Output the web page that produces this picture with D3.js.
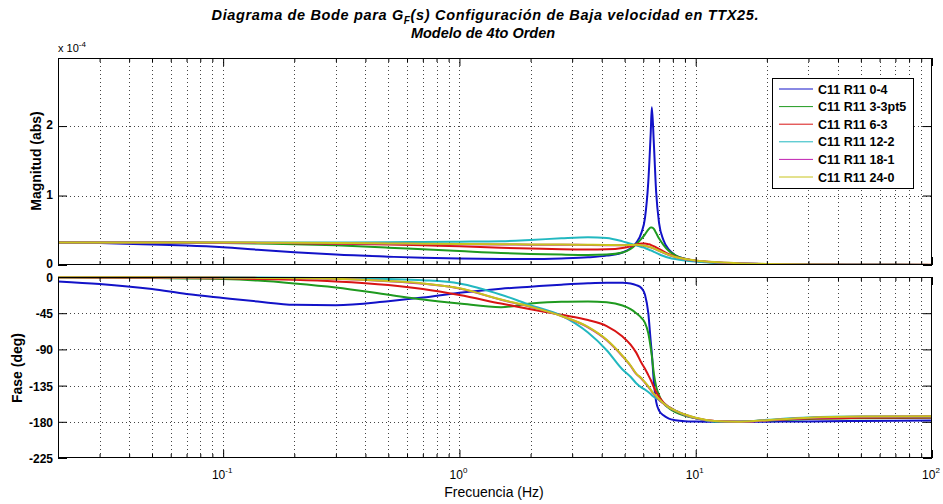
<!DOCTYPE html>
<html><head><meta charset="utf-8">
<script src="https://cdn.jsdelivr.net/npm/d3@7"></script>
<style>body{margin:0;background:#fff}svg{display:block}text{font-family:"Liberation Sans",Arial,sans-serif}</style>
</head><body><svg id="c" width="943" height="504"></svg>
<script>
// ---- DATA ----
const freq = [0.02,0.03,0.05,0.07,0.1,0.14,0.2,0.3,0.5,0.7,1,1.5,2,2.7,3.5,4.2,4.9,5.3,5.6,5.9,6.1,6.3,6.45,6.52,6.65,6.8,7.0,7.3,7.7,8.2,9,10,12,15,20,30,50,100];
const seriesNames = ["C11 R11 0-4","C11 R11 3-3pt5","C11 R11 6-3","C11 R11 12-2","C11 R11 18-1","C11 R11 24-0"];
const seriesColors = ["#1212c8","#1f9a1f","#d81414","#22b8c0","#c020b0","#c8c41c"];
// magnitude, units of 1e-4
const mag04   = [0.323,0.315,0.295,0.28,0.255,0.22,0.185,0.15,0.12,0.103,0.092,0.087,0.087,0.095,0.11,0.135,0.18,0.24,0.32,0.47,0.68,1.2,1.9,2.27,1.75,1.05,0.6,0.36,0.22,0.14,0.09,0.06,0.035,0.02,0.012,0.006,0.003,0.001];
const mag33   = [0.323,0.323,0.322,0.32,0.317,0.31,0.30,0.283,0.25,0.225,0.2,0.172,0.16,0.15,0.145,0.15,0.18,0.23,0.3,0.38,0.44,0.51,0.54,0.54,0.52,0.46,0.38,0.29,0.2,0.14,0.09,0.06,0.035,0.02,0.012,0.006,0.003,0.0015];
const mag63   = [0.323,0.323,0.323,0.322,0.32,0.318,0.314,0.307,0.295,0.283,0.27,0.248,0.237,0.226,0.222,0.225,0.245,0.27,0.295,0.31,0.31,0.30,0.29,0.282,0.27,0.255,0.23,0.195,0.155,0.12,0.085,0.06,0.035,0.02,0.012,0.006,0.003,0.0015];
const mag122  = [0.323,0.323,0.323,0.323,0.323,0.323,0.323,0.325,0.328,0.332,0.336,0.342,0.36,0.385,0.40,0.39,0.34,0.305,0.285,0.26,0.245,0.225,0.21,0.205,0.19,0.175,0.155,0.13,0.105,0.085,0.065,0.05,0.032,0.02,0.012,0.006,0.003,0.0015];
const mag181  = [0.323,0.323,0.323,0.323,0.322,0.321,0.318,0.313,0.307,0.303,0.299,0.295,0.293,0.291,0.289,0.285,0.283,0.285,0.288,0.283,0.276,0.263,0.254,0.248,0.238,0.223,0.203,0.176,0.143,0.113,0.083,0.063,0.041,0.025,0.015,0.008,0.004,0.002];
const mag240  = [0.323,0.323,0.323,0.323,0.323,0.322,0.32,0.316,0.31,0.306,0.302,0.298,0.296,0.294,0.292,0.288,0.285,0.287,0.29,0.285,0.278,0.265,0.256,0.25,0.24,0.225,0.205,0.178,0.145,0.115,0.085,0.065,0.042,0.026,0.016,0.008,0.004,0.002];
// phase, degrees
const ph04   = [-5.5,-8.7,-15,-21,-26,-30.5,-34.5,-35,-30,-25.5,-19.5,-14.5,-12,-9.5,-7.8,-7.2,-7.2,-8,-10,-14,-22,-45,-80,-95,-130,-155,-166,-172,-176,-178,-179.3,-179.7,-180,-180,-179.8,-179.5,-179,-178.3];
const ph33   = [-0.5,-0.8,-1.3,-1.8,-2.5,-4.5,-8,-13,-22,-28,-33,-37.5,-33,-30.7,-30.5,-31.5,-35.5,-40,-45,-51,-57,-70,-88,-98,-120,-136,-147,-157,-163,-168,-172.5,-175.5,-179.5,-180,-178.5,-176.5,-175.5,-175];
const ph63   = [-0.3,-0.5,-0.8,-1.2,-1.7,-2.5,-3.5,-5.5,-10,-15,-22.5,-33,-40,-47,-53.5,-61,-74,-84,-94,-107,-114,-122,-128,-131,-137,-143,-149,-156,-161.5,-166,-171.5,-175.5,-179,-180,-178,-176,-175,-174.5];
const ph122  = [0,-0.1,-0.2,-0.3,-0.4,-0.6,-0.9,-1.4,-2.5,-4,-8,-22,-35,-48,-69,-91,-115,-124,-132,-137.5,-140,-143,-145.5,-147,-149,-150.5,-153,-157,-162,-166,-171.5,-175.5,-179.5,-180,-177.5,-174.5,-173.5,-173.3];
const ph181  = [-0.2,-0.3,-0.4,-0.6,-0.8,-1.1,-1.5,-2.3,-5.2,-8.3,-14.3,-28.3,-37.2,-48.5,-62.5,-78.5,-98.5,-110.5,-120.5,-126.5,-131.5,-136.5,-140.5,-142.5,-145.5,-148.5,-152.5,-157.3,-162.2,-166.2,-171.2,-175.2,-179.1,-180,-178.3,-175.3,-173.8,-173.2];
const ph240  = [-0.2,-0.3,-0.4,-0.6,-0.8,-1.1,-1.5,-2.2,-5,-8,-14,-28,-37,-48.5,-62,-78,-98,-110,-120,-126,-131,-136,-140,-142,-145,-148,-152,-157,-162,-166,-171,-175,-179,-180,-178,-175,-173.5,-173];
const magSeries = [mag04,mag33,mag63,mag122,mag181,mag240];
const phSeries  = [ph04,ph33,ph63,ph122,ph181,ph240];
const magTicks = [0,1,2];
const phTicks = [0,-45,-90,-135,-180,-225];
const decadeTicks = [0.1,1,10,100];
const decadeExp = ["-1","0","1","2"];

// ---- LAYOUT ----
const svg = d3.select("#c");
const L = 58, R = 932;
const mTop = 58, mBot = 265, pTop = 277, pBot = 458;
const x = d3.scaleLog().domain([0.02,100]).range([L,R]);
const yM = d3.scaleLinear().domain([0,2.98]).range([mBot,mTop]);
const yP = d3.scaleLinear().domain([-225,0]).range([pBot,pTop]);
const allX = x.ticks();
const minorX = allX.filter(v => !decadeTicks.some(d => Math.abs(d - v) < 1e-9));

svg.append("defs").call(d=>{
  d.append("clipPath").attr("id","cm").append("rect").attr("x",L).attr("y",mTop).attr("width",R-L).attr("height",mBot-mTop);
  d.append("clipPath").attr("id","cp").append("rect").attr("x",L).attr("y",pTop-2).attr("width",R-L).attr("height",pBot-pTop+2);
});

function panel(yS, top, bot, yTicks, labelDy, clipId, data) {
  const g = svg.append("g");
  g.append("rect").attr("x",L).attr("y",top).attr("width",R-L).attr("height",bot-top).attr("fill","#fff");
  // grid
  const grid = g.append("g").attr("stroke","#444").attr("stroke-width",1).attr("stroke-dasharray","1,3").attr("fill","none");
  allX.filter(v => x(v) > L+1 && x(v) < R-1).forEach(v => {
    grid.append("line").attr("x1",Math.round(x(v))+0.5).attr("x2",Math.round(x(v))+0.5).attr("y1",top).attr("y2",bot);
  });
  yTicks.filter(v => yS(v) > top+1 && yS(v) < bot-1).forEach(v => {
    grid.append("line").attr("x1",L).attr("x2",R).attr("y1",Math.round(yS(v))+0.5).attr("y2",Math.round(yS(v))+0.5);
  });
  // curves
  const line = d3.line().x((d,i)=>x(freq[i])).y(d=>yS(d)).curve(d3.curveMonotoneX);
  const cg = g.append("g").attr("clip-path",`url(#${clipId})`);
  data.forEach((arr,k)=>{
    cg.append("path").attr("d",line(arr)).attr("fill","none").attr("stroke",seriesColors[k]).attr("stroke-width",2).attr("stroke-linejoin","round");
  });
  // axes ticks (inward)
  const axG = g.append("g");
  axG.append("g").attr("transform",`translate(0,${bot})`).call(d3.axisBottom(x).tickValues(decadeTicks).tickSize(-8).tickFormat(""));
  axG.append("g").attr("transform",`translate(0,${bot})`).call(d3.axisBottom(x).tickValues(minorX).tickSize(-4).tickFormat(""));
  axG.append("g").attr("transform",`translate(0,${top})`).call(d3.axisTop(x).tickValues(decadeTicks).tickSize(-8).tickFormat(""));
  axG.append("g").attr("transform",`translate(0,${top})`).call(d3.axisTop(x).tickValues(minorX).tickSize(-4).tickFormat(""));
  axG.append("g").attr("transform",`translate(${L},0)`).call(d3.axisLeft(yS).tickValues(yTicks).tickSize(-9).tickFormat(""));
  axG.append("g").attr("transform",`translate(${R},0)`).call(d3.axisRight(yS).tickValues(yTicks).tickSize(-9).tickFormat(""));
  axG.selectAll(".domain").remove();
  axG.selectAll("line").attr("stroke","#000");
  g.append("rect").attr("x",L+0.5).attr("y",top+0.5).attr("width",R-L-1).attr("height",bot-top-1).attr("fill","none").attr("stroke","#000");
  // y labels
  yTicks.forEach(v=>{
    g.append("text").attr("x",L-5).attr("y",yS(v)+labelDy).attr("text-anchor","end").attr("font-size",12).attr("font-weight","bold").text(v);
  });
}

panel(yM, mTop, mBot, magTicks, 3, "cm", magSeries);
panel(yP, pTop, pBot, phTicks, 5, "cp", phSeries);

// exponent label
const ex = svg.append("text").attr("x",L).attr("y",52).attr("font-size",11);
ex.append("tspan").text("x 10");
ex.append("tspan").attr("font-size",8).attr("dy",-5).text("-4");

// x tick labels
decadeTicks.forEach((v,i)=>{
  const t = svg.append("text").attr("x",x(v)-1).attr("y",479).attr("text-anchor","middle").attr("font-size",12);
  t.append("tspan").text("10");
  t.append("tspan").attr("font-size",8).attr("dy",-6).text(decadeExp[i]);
});

// axis titles
svg.append("text").attr("x",494).attr("y",497).attr("text-anchor","middle").attr("font-size",14).text("Frecuencia  (Hz)");
svg.append("text").attr("transform","translate(41,161) rotate(-90)").attr("text-anchor","middle").attr("font-size",14).attr("font-weight","bold").text("Magnitud (abs)");
svg.append("text").attr("transform","translate(22,368) rotate(-90)").attr("text-anchor","middle").attr("font-size",14).attr("font-weight","bold").text("Fase (deg)");

// title
const t1 = svg.append("text").attr("x",485).attr("y",20).attr("text-anchor","middle").attr("font-size",14.5).attr("font-weight","bold").attr("font-style","italic")
  .attr("textLength",547).attr("lengthAdjust","spacing");
t1.append("tspan").text("Diagrama de Bode para  G");
t1.append("tspan").attr("font-size",10).attr("dy",4).text("F");
t1.append("tspan").attr("dy",-4).text("(s) Configuración de Baja velocidad en TTX25.");
svg.append("text").attr("x",483).attr("y",38).attr("text-anchor","middle").attr("font-size",14.5).attr("font-weight","bold").attr("font-style","italic").text("Modelo de 4to Orden");

// legend
const lg = svg.append("g");
lg.append("rect").attr("x",772.5).attr("y",78.5).attr("width",141).attr("height",110).attr("fill","#fff").attr("stroke","#000");
seriesNames.forEach((n,i)=>{
  const yy = 89 + i*17.6;
  lg.append("line").attr("x1",779).attr("x2",813).attr("y1",yy).attr("y2",yy).attr("stroke",seriesColors[i]).attr("stroke-width",1);
  lg.append("text").attr("x",818).attr("y",yy+4.5).attr("font-size",12.5).attr("font-weight","bold").text(n);
});
</script></body></html>
